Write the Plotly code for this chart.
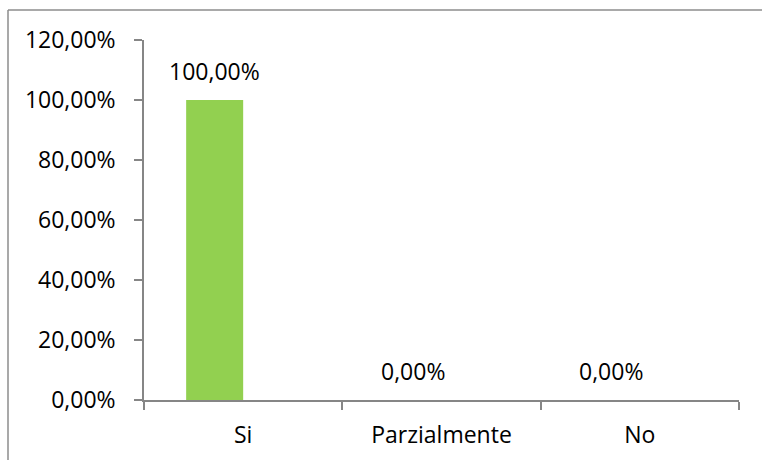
import plotly.graph_objects as go

categories = ["Si", "Parzialmente", "No"]
values = [1.0, 0.0, 0.0]
y_ticks = [0, 0.2, 0.4, 0.6, 0.8, 1.0, 1.2]
y_tick_labels = ["0,00%", "20,00%", "40,00%", "60,00%", "80,00%", "100,00%", "120,00%"]

def fmt(v):
    return f"{v*100:.2f}".replace(".", ",") + "%"

FONT = "Open Sans"
FS = 23
W, H = 762, 460
L, R, T, B = 144, 23, 40, 60
pw, ph = W - L - R, H - T - B

bar_w = 0.2875

fig = go.Figure()
fig.add_trace(go.Bar(
    x=categories, y=values,
    width=bar_w, offset=-bar_w,
    marker=dict(color="#92D050", line=dict(width=0)),
    hoverinfo="skip",
))

annotations = []
for i, (c, v) in enumerate(zip(categories, values)):
    annotations.append(dict(
        x=i - bar_w / 2, y=v, xref="x", yref="y",
        text=fmt(v), showarrow=False,
        xanchor="center", yanchor="bottom", yshift=11,
        font=dict(family=FONT, size=FS, color="#000000"),
    ))

bx, by = 8.0, 10.0  # border position in figure pixels
px0 = (bx - L) / pw
py1 = (H - B - by) / ph
px_far = (W + 40 - L) / pw
py_far = -(H + 40 - T - ph) / ph
border = dict(color="#8c8c8c", width=1.5)
shapes = [
    dict(type="line", xref="paper", yref="paper", x0=px0, x1=px0, y0=py_far, y1=py1,
         line=border, layer="below"),
    dict(type="line", xref="paper", yref="paper", x0=px0, x1=px_far, y0=py1, y1=py1,
         line=border, layer="below"),
]

fig.update_layout(
    width=W, height=H,
    margin=dict(l=L, r=R, t=T, b=B, pad=0),
    paper_bgcolor="white", plot_bgcolor="white",
    showlegend=False,
    font=dict(family=FONT, size=FS, color="#000000"),
    annotations=annotations,
    shapes=shapes,
    xaxis=dict(
        type="category", range=[-0.5, 2.5],
        showline=True, linecolor="#868686", linewidth=1.5,
        ticks="outside", ticklen=8, tickcolor="#868686", tickwidth=1.5,
        tickson="boundaries", showgrid=False, zeroline=False,
        tickfont=dict(family=FONT, size=FS, color="#000000"),
        ticklabelstandoff=14, automargin=False,
    ),
    yaxis=dict(
        range=[0, 1.2], tickvals=y_ticks, ticktext=y_tick_labels,
        showline=True, linecolor="#868686", linewidth=1.5,
        ticks="outside", ticklen=8, tickcolor="#868686", tickwidth=1.5,
        showgrid=False, zeroline=False,
        tickfont=dict(family=FONT, size=FS, color="#000000"),
        ticklabelstandoff=14, automargin=False,
    ),
)

fig.write_html(
    "out.html",
    config={"displayModeBar": False},
    post_script="document.body.style.margin='0';document.body.style.overflow='hidden';",
)
